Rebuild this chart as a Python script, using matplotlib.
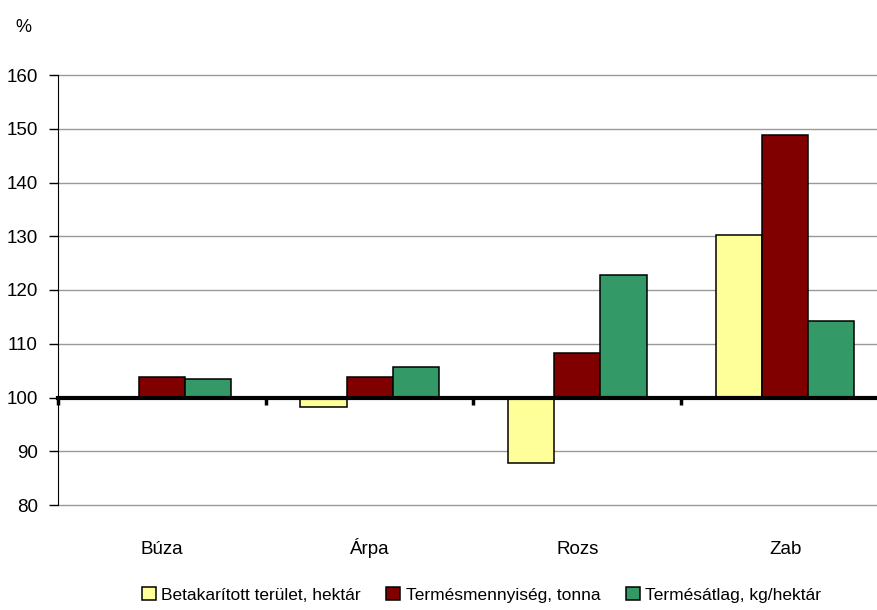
import matplotlib
matplotlib.use('Agg')
import matplotlib.pyplot as plt
import numpy as np

# ── Data (previous year = 100%) ─────────────────────────────
CATEGORIES = ['Búza', 'Árpa', 'Rozs', 'Zab']
SERIES     = ['Betakarított terület, hektár', 'Termésmennyiség, tonna', 'Termésátlag, kg/hektár']
TERULET    = [100.0, 98.2, 87.8, 130.2]
MENNYISEG  = [103.8, 103.8, 108.2, 148.8]
ATLAG      = [103.4, 105.6, 122.7, 114.2]
COLORS     = ['#FFFF99', '#800000', '#339966']
BASE       = 100

plt.rcParams['font.family'] = ['Liberation Sans', 'DejaVu Sans']

fig = plt.figure(figsize=(8.77, 6.10), dpi=100)
ax = fig.add_axes([58 / 877, 1 - 505 / 610, 831 / 877, 430 / 610])

x = np.arange(len(CATEGORIES))
w = 0.222
for i, (vals, col, lab) in enumerate(zip([TERULET, MENNYISEG, ATLAG], COLORS, SERIES)):
    v = np.array(vals) - BASE
    ax.bar(x + (i - 1) * w, v, w, bottom=BASE, color=col, edgecolor='black',
           linewidth=1.1, label=lab, zorder=2)

ax.set_xlim(-0.5, len(CATEGORIES) - 0.5)
ax.set_ylim(80, 160)
ax.set_yticks(range(80, 161, 10))
ax.yaxis.grid(True, color='#999999', linewidth=1.0)
for gl in ax.get_ygridlines():
    gl.set_clip_on(False)
ax.set_axisbelow(True)

# baseline at 100 carries the category boundary ticks
ax.spines['bottom'].set_position(('data', BASE))
ax.spines['bottom'].set_linewidth(3)
ax.spines['bottom'].set_zorder(3)
ax.spines['top'].set_visible(False)
ax.spines['right'].set_visible(False)
ax.set_xticks(np.arange(-0.5, len(CATEGORIES), 1.0))
ax.set_xticklabels([])
ax.tick_params(axis='x', direction='out', length=5, width=2.5, color='black')
ax.tick_params(axis='y', direction='out', length=6.5, width=1, pad=8,
               labelsize=13.5)

# category labels below the plot
for xi, lab in zip(x, CATEGORIES):
    ax.text(xi, -0.115, lab, transform=ax.get_xaxis_transform(),
            ha='center', va='baseline', fontsize=13.5)

fig.text(0.017, 0.955, '%', fontsize=13, va='center')

fig.legend(loc='center', bbox_to_anchor=(0.549, 0.025), ncol=3, frameon=False,
           fontsize=12.5, handlelength=0.8, handleheight=0.8, handletextpad=0.3,
           columnspacing=1.5)

fig.savefig('out.png', dpi=100)
